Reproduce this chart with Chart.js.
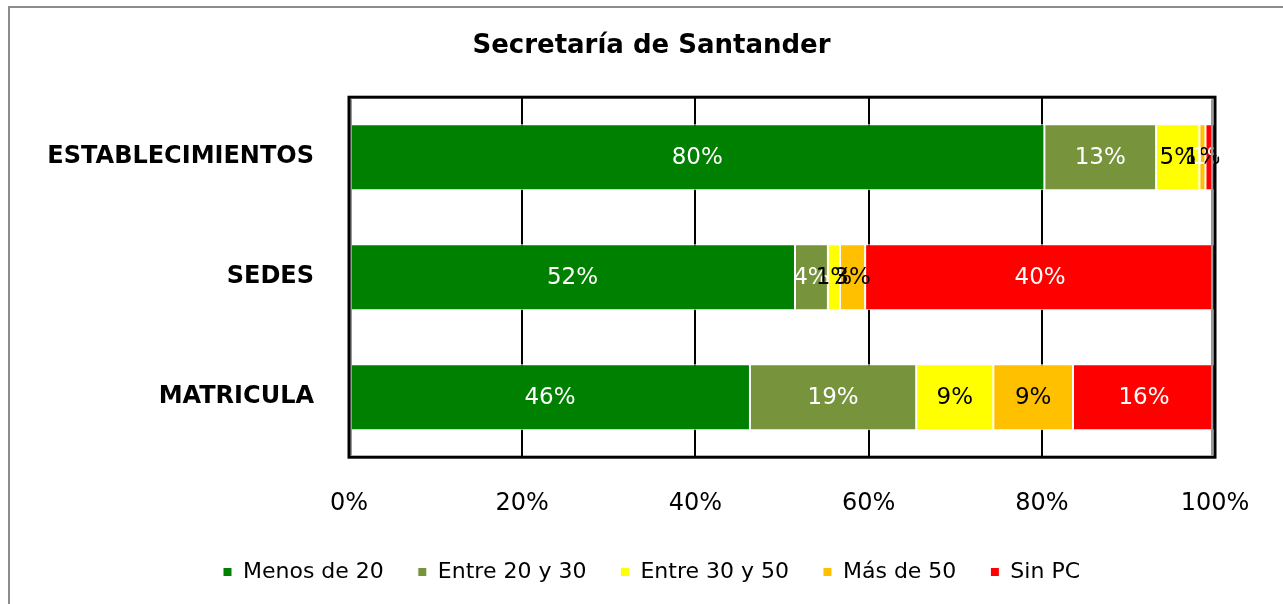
<!DOCTYPE html>
<html>
<head>
<meta charset="utf-8">
<script src="https://cdn.jsdelivr.net/npm/chart.js@4.4.1/dist/chart.umd.min.js"></script>
<style>
    html, body { margin: 0; padding: 0; background: #fff; overflow: hidden; }
    #marco {
        position: absolute; left: 8px; top: 6px; width: 1400px; height: 700px;
        border-left: 2px solid #8c8c8c; border-top: 2px solid #8c8c8c;
    }
    #caja { position: absolute; left: 0; top: 0; width: 1283px; height: 604px; }
</style>
</head>
<body>
<div id="marco"></div>
<div id="caja"><canvas id="grafico_santander"></canvas></div>
<script>
const categorias = ["ESTABLECIMIENTOS", "SEDES", "MATRICULA"];
const menos20 = [80.3, 51.5, 46.3];
const entre20y30 = [12.9, 3.8, 19.2];
const entre30y50 = [5.0, 1.4, 8.9];
const mas50 = [0.7, 2.9, 9.2];
const sinPC = [1.1, 40.4, 16.4];
const ticksX = [0, 20, 40, 60, 80, 100];

const ctx_santander = document.getElementById("grafico_santander");

// etiquetas dentro de cada segmento
const etiquetas = {
    id: "etiquetas",
    afterDatasetsDraw(chart) {
        const c = chart.ctx;
        c.save();
        c.font = "23px 'DejaVu Sans'";
        c.textAlign = "center";
        c.textBaseline = "middle";
        chart.data.datasets.forEach((ds, i) => {
            const meta = chart.getDatasetMeta(i);
            meta.data.forEach((bar, j) => {
                c.fillStyle = ds.labelColor;
                c.fillText(Math.round(ds.data[j]) + "%", (bar.x + bar.base) / 2, bar.y + 1);
            });
        });
        c.restore();
    }
};

// nombres de categoria (el eje los recorta si son mas anchos que la escala)
const nombresY = {
    id: "nombresY",
    afterDraw(chart) {
        const y = chart.scales.y;
        const c = chart.ctx;
        c.save();
        c.font = "bold 24px 'DejaVu Sans'";
        c.fillStyle = "#000";
        c.textAlign = "right";
        c.textBaseline = "middle";
        categorias.forEach((cat, i) => {
            c.fillText(cat, chart.chartArea.left - 35, y.getPixelForValue(i));
        });
        c.restore();
    }
};

// marco negro del area de trazado
const marcoArea = {
    id: "marcoArea",
    afterDatasetsDraw(chart) {
        const a = chart.chartArea;
        const c = chart.ctx;
        c.save();
        c.strokeStyle = "#999";
        c.lineWidth = 2;
        c.beginPath();
        c.moveTo(a.left + 2, a.top + 2);
        c.lineTo(a.left + 2, a.bottom - 2);
        c.moveTo(a.right - 3, a.top + 2);
        c.lineTo(a.right - 3, a.bottom - 2);
        c.stroke();
        c.strokeStyle = "#000";
        c.lineWidth = 3;
        c.strokeRect(a.left, a.top, a.right - a.left, a.bottom - a.top);
        c.restore();
    }
};

const santander_chart = new Chart(ctx_santander, {
    type: "bar",
    data: {
        labels: categorias,
        datasets: [
            { label: "Menos de 20", data: menos20, backgroundColor: "#008000", labelColor: "#fff" },
            { label: "Entre 20 y 30", data: entre20y30, backgroundColor: "#77933C", labelColor: "#fff" },
            { label: "Entre 30 y 50", data: entre30y50, backgroundColor: "#FFFF00", labelColor: "#000" },
            { label: "Más de 50", data: mas50, backgroundColor: "#FFC000", labelColor: "#000" },
            { label: "Sin PC", data: sinPC, backgroundColor: "#FF0000", labelColor: "#fff" }
        ]
    },
    options: {
        indexAxis: "y",
        responsive: true,
        maintainAspectRatio: false,
        animation: false,
        datasets: {
            bar: {
                borderColor: "#fff",
                borderWidth: 1,
                borderSkipped: false,
                barPercentage: 0.55,
                categoryPercentage: 1
            }
        },
        layout: { padding: { left: 88, right: 68, top: 0, bottom: 11 } },
        plugins: {
            title: {
                display: true,
                text: "Secretaría de Santander",
                color: "#000",
                font: { family: "'DejaVu Sans'", size: 26, weight: "bold" },
                padding: { top: 31, bottom: 35 }
            },
            legend: {
                position: "bottom",
                labels: {
                    color: "#000",
                    font: { family: "'DejaVu Sans'", size: 22 },
                    boxWidth: 9,
                    boxHeight: 9,
                    padding: 34
                }
            },
            tooltip: { enabled: false }
        },
        scales: {
            x: {
                stacked: true,
                min: 0,
                max: 100,
                afterBuildTicks: (scale) => { scale.ticks = ticksX.map(v => ({ value: v })); },
                afterFit: (scale) => { scale.height = scale.height - 23; },
                ticks: {
                    color: "#000",
                    font: { family: "'DejaVu Sans'", size: 24 },
                    padding: 32,
                    callback: (v) => v + "%"
                },
                grid: { color: "#000", lineWidth: 2, drawTicks: false },
                border: { display: false }
            },
            y: {
                stacked: true,
                afterFit: (scale) => { scale.width = 349 - 88; },
                ticks: { display: false },
                grid: { display: false, drawTicks: false },
                border: { display: false }
            }
        }
    },
    plugins: [etiquetas, nombresY, marcoArea]
});
</script>
</body>
</html>
